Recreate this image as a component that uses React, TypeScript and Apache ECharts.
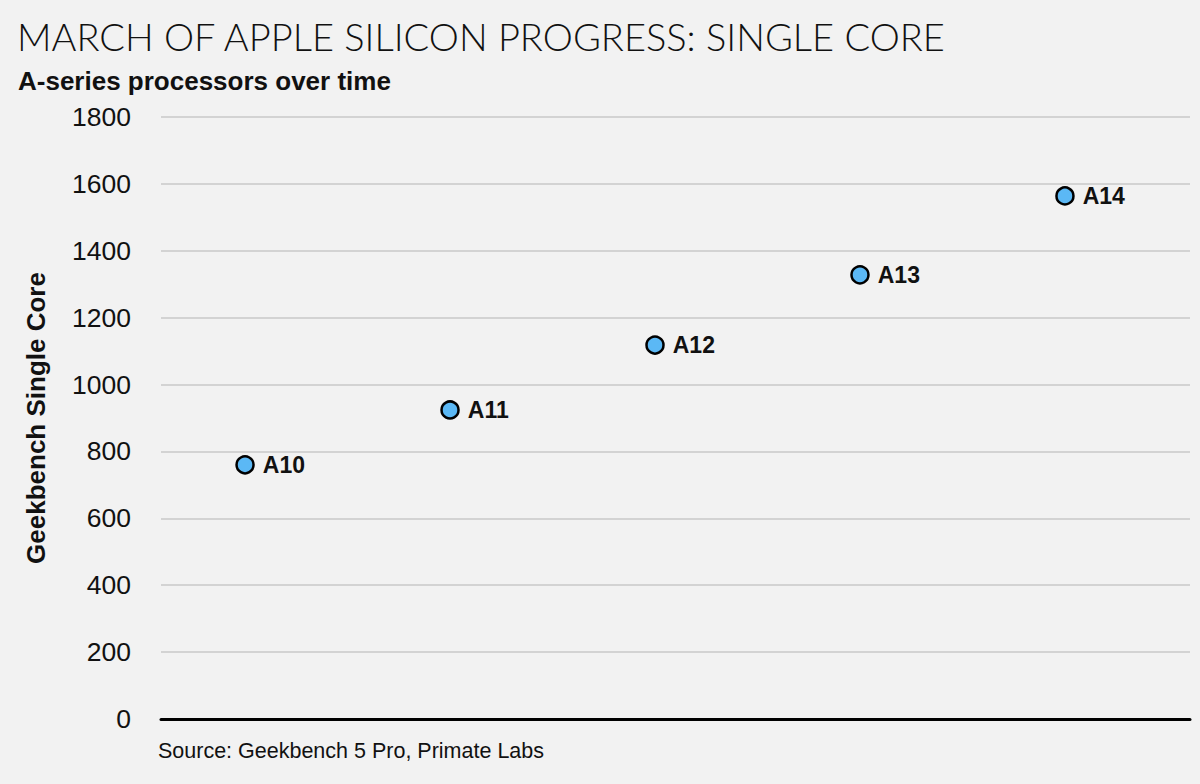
import React, { useEffect, useRef } from "react";
import * as echarts from "echarts";

const chips = ["A10", "A11", "A12", "A13", "A14"];
const scores = [760, 924, 1118, 1328, 1564];
const yTicks = [0, 200, 400, 600, 800, 1000, 1200, 1400, 1600, 1800];

const TITLE = "MARCH OF APPLE SILICON PROGRESS: SINGLE CORE";
const SUBTITLE = "A-series processors over time";
const SOURCE = "Source: Geekbench 5 Pro, Primate Labs";
const Y_NAME = "Geekbench Single Core";

export default function App() {
  const ref = useRef<HTMLDivElement>(null);
  useEffect(() => {
    if (!ref.current) return;
    const chart = echarts.init(ref.current, undefined, { renderer: "svg" });
    const font = "'Liberation Sans', Arial, sans-serif";
    chart.setOption({
      animation: false,
      backgroundColor: "#f2f2f2",
      title: [
        {
          text: TITLE,
          left: 12,
          top: 12,
          textStyle: { fontFamily: "Lato, 'Open Sans', sans-serif", fontWeight: 300, fontSize: 38, color: "#111" },
        },
        {
          text: SUBTITLE,
          left: 13,
          top: 63,
          textStyle: { fontFamily: font, fontWeight: "bold", fontSize: 26, color: "#111" },
        },
      ],
      graphic: [
        {
          type: "text",
          left: 158,
          top: 740,
          style: { text: SOURCE, fontFamily: font, fontSize: 21.5, fill: "#111" },
        },
      ],
      grid: { left: 161, right: 10, top: 117, bottom: 65, containLabel: false },
      xAxis: {
        type: "value",
        min: 0.59,
        max: 5.61,
        axisLine: { show: true, onZero: false, lineStyle: { color: "#000", width: 3 } },
        axisTick: { show: false },
        axisLabel: { show: false },
        splitLine: { show: false },
      },
      yAxis: {
        type: "value",
        min: yTicks[0],
        max: yTicks[yTicks.length - 1],
        interval: yTicks[1] - yTicks[0],
        name: Y_NAME,
        nameLocation: "middle",
        nameRotate: 90,
        nameGap: 112,
        nameTextStyle: { fontFamily: font, fontWeight: "bold", fontSize: 26, color: "#111" },
        axisLine: { show: false },
        axisTick: { show: false },
        axisLabel: { fontFamily: font, fontSize: 26.5, color: "#111", margin: 30, formatter: (v: number) => String(v) },
        splitLine: { lineStyle: { color: "#d3d3d3", width: 2 } },
      },
      series: [
        {
          type: "scatter",
          data: scores.map((s, i) => ({ value: [i + 1, s], name: chips[i] })),
          symbol: "circle",
          symbolSize: 17,
          itemStyle: { color: "#5bb8f5", borderColor: "#000", borderWidth: 2.5, opacity: 1 },
          label: {
            show: true,
            position: "right",
            distance: 8,
            formatter: (p: any) => p.name,
            fontFamily: font,
            fontWeight: "bold",
            fontSize: 23,
            color: "#111",
          },
        },
      ],
    });
    return () => chart.dispose();
  }, []);
  return <div ref={ref} style={{ width: 1200, height: 784, position: "fixed", left: 0, top: 0 }} />;
}
